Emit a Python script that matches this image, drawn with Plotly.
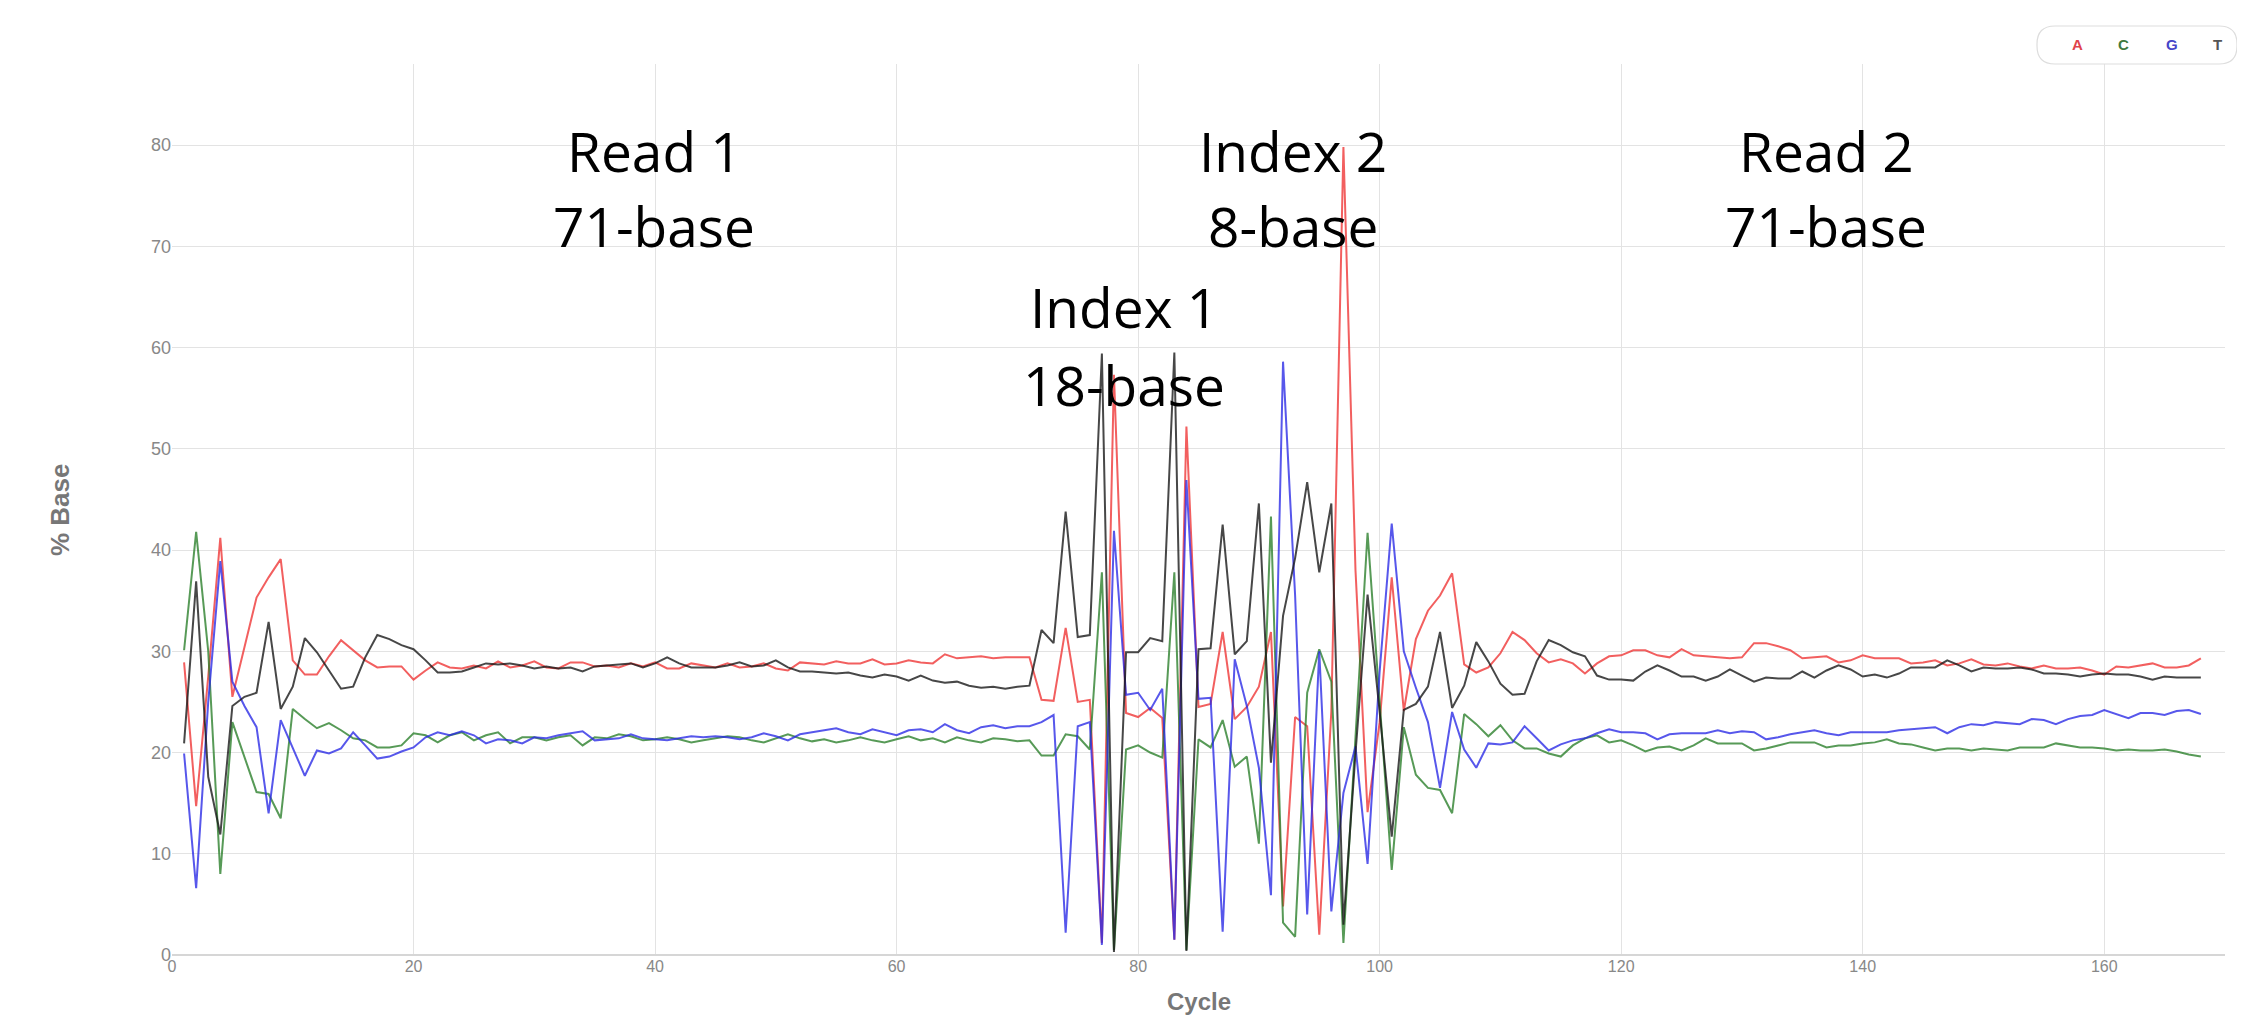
import plotly.graph_objects as go

# ---------------- data ----------------
cycles = list(range(1, 169))

base_a = [
    28.9, 14.7, 27.5, 41.2, 25.5, 30.4, 35.3, 37.3, 39.1, 29.1,
    27.7, 27.7, 29.5, 31.1, 30.1, 29.1, 28.4, 28.5, 28.5, 27.2,
    28.1, 28.9, 28.4, 28.3, 28.6, 28.3, 29.0, 28.4, 28.6, 29.0,
    28.4, 28.3, 28.9, 28.9, 28.5, 28.6, 28.4, 28.8, 28.5, 28.9,
    28.3, 28.3, 28.8, 28.6, 28.4, 28.8, 28.4, 28.5, 28.8, 28.3,
    28.1, 28.9, 28.8, 28.7, 29.0, 28.8, 28.8, 29.2, 28.7, 28.8,
    29.1, 28.9, 28.8, 29.7, 29.3, 29.4, 29.5, 29.3, 29.4, 29.4,
    29.4, 25.2, 25.1, 32.3, 25.0, 25.2, 1.2, 57.3, 23.9, 23.5,
    24.4, 23.4, 1.5, 52.2, 24.5, 24.8, 31.9, 23.3, 24.5, 26.5,
    31.9, 4.8, 23.5, 22.6, 2.0, 24.1, 79.8, 38.0, 14.1, 23.0,
    37.3, 24.1, 31.2, 34.0, 35.5, 37.7, 28.7, 27.9, 28.4, 29.8,
    31.9, 31.1, 29.8, 28.9, 29.2, 28.8, 27.8, 28.8, 29.5, 29.6,
    30.1, 30.1, 29.6, 29.4, 30.2, 29.6, 29.5, 29.4, 29.3, 29.4,
    30.8, 30.8, 30.5, 30.1, 29.3, 29.4, 29.5, 28.9, 29.1, 29.6,
    29.3, 29.3, 29.3, 28.8, 28.9, 29.1, 28.6, 28.8, 29.2, 28.7,
    28.6, 28.8, 28.5, 28.3, 28.6, 28.3, 28.3, 28.4, 28.1, 27.7,
    28.5, 28.4, 28.6, 28.8, 28.4, 28.4, 28.6, 29.3,
]

base_c = [
    30.1, 41.8, 30.0, 8.0, 23.0, 19.6, 16.1, 15.9, 13.5, 24.3,
    23.3, 22.4, 22.9, 22.2, 21.4, 21.2, 20.5, 20.5, 20.7, 21.9,
    21.7, 21.0, 21.7, 22.0, 21.2, 21.7, 22.0, 20.9, 21.5, 21.5,
    21.2, 21.5, 21.7, 20.7, 21.5, 21.4, 21.8, 21.6, 21.2, 21.3,
    21.5, 21.3, 21.0, 21.2, 21.4, 21.6, 21.5, 21.2, 21.0, 21.4,
    21.8, 21.4, 21.1, 21.3, 21.0, 21.2, 21.5, 21.2, 21.0, 21.3,
    21.6, 21.2, 21.4, 21.0, 21.5, 21.2, 21.0, 21.4, 21.3, 21.1,
    21.2, 19.7, 19.7, 21.8, 21.6, 20.3, 37.8, 0.5, 20.3, 20.7,
    20.0, 19.5, 37.8, 0.5, 21.3, 20.5, 23.2, 18.6, 19.6, 11.0,
    43.3, 3.2, 1.8, 25.9, 30.2, 27.0, 1.2, 21.5, 41.7, 25.0,
    8.4, 22.5, 17.8, 16.5, 16.3, 14.0, 23.8, 22.8, 21.6, 22.7,
    21.2, 20.4, 20.4, 19.9, 19.6, 20.7, 21.4, 21.7, 21.0, 21.2,
    20.7, 20.1, 20.5, 20.6, 20.2, 20.7, 21.4, 20.9, 20.9, 20.9,
    20.2, 20.4, 20.7, 21.0, 21.0, 21.0, 20.5, 20.7, 20.7, 20.9,
    21.0, 21.3, 20.9, 20.8, 20.5, 20.2, 20.4, 20.4, 20.2, 20.4,
    20.3, 20.2, 20.5, 20.5, 20.5, 20.9, 20.7, 20.5, 20.5, 20.4,
    20.2, 20.3, 20.2, 20.2, 20.3, 20.1, 19.8, 19.6,
]

base_g = [
    19.9, 6.6, 25.0, 38.9, 27.0, 24.6, 22.5, 14.0, 23.2, 20.5,
    17.7, 20.2, 19.9, 20.4, 22.0, 20.7, 19.4, 19.6, 20.1, 20.5,
    21.5, 22.0, 21.7, 22.1, 21.7, 20.9, 21.3, 21.2, 20.9, 21.5,
    21.4, 21.7, 21.9, 22.1, 21.2, 21.3, 21.4, 21.8, 21.4, 21.3,
    21.2, 21.4, 21.6, 21.5, 21.6, 21.5, 21.3, 21.5, 21.9, 21.6,
    21.2, 21.8, 22.0, 22.2, 22.4, 22.0, 21.8, 22.3, 22.0, 21.7,
    22.2, 22.3, 22.0, 22.8, 22.2, 21.9, 22.5, 22.7, 22.4, 22.6,
    22.6, 23.0, 23.7, 2.2, 22.6, 23.0, 1.0, 41.9, 25.7, 25.9,
    24.2, 26.3, 1.5, 46.9, 25.3, 25.4, 2.3, 29.2, 24.6, 18.5,
    5.9, 58.6, 35.5, 4.0, 30.0, 4.3, 16.0, 20.6, 9.0, 28.0,
    42.6, 30.0, 26.4, 23.0, 16.5, 24.0, 20.3, 18.5, 20.9, 20.8,
    21.0, 22.6, 21.4, 20.2, 20.8, 21.2, 21.4, 21.9, 22.3, 22.0,
    22.0, 21.9, 21.3, 21.8, 21.9, 21.9, 21.9, 22.2, 21.9, 22.1,
    22.0, 21.3, 21.5, 21.8, 22.0, 22.2, 21.9, 21.7, 22.0, 22.0,
    22.0, 22.0, 22.2, 22.3, 22.4, 22.5, 21.9, 22.5, 22.8, 22.7,
    23.0, 22.9, 22.8, 23.3, 23.2, 22.8, 23.3, 23.6, 23.7, 24.2,
    23.8, 23.4, 23.9, 23.9, 23.7, 24.1, 24.2, 23.8,
]

base_t = [
    20.9, 36.9, 17.6, 11.9, 24.6, 25.5, 25.9, 32.9, 24.3, 26.5,
    31.3, 29.9, 28.1, 26.3, 26.5, 29.4, 31.6, 31.2, 30.6, 30.2,
    29.1, 27.9, 27.9, 28.0, 28.4, 28.8, 28.7, 28.8, 28.6, 28.3,
    28.5, 28.3, 28.4, 28.0, 28.5, 28.6, 28.7, 28.8, 28.4, 28.8,
    29.4, 28.8, 28.4, 28.4, 28.4, 28.6, 28.9, 28.5, 28.6, 29.1,
    28.4, 28.0, 28.0, 27.9, 27.8, 27.9, 27.6, 27.4, 27.7, 27.5,
    27.1, 27.6, 27.1, 26.9, 27.0, 26.6, 26.4, 26.5, 26.3, 26.5,
    26.6, 32.1, 30.8, 43.8, 31.4, 31.6, 59.4, 0.3, 29.9, 29.9,
    31.3, 31.0, 59.5, 0.4, 30.2, 30.3, 42.5, 29.7, 31.0, 44.6,
    19.0, 33.5, 39.2, 46.7, 37.8, 44.6, 3.0, 19.9, 35.6, 24.0,
    11.7, 24.2, 24.8, 26.5, 31.9, 24.4, 26.6, 30.9, 29.0, 26.8,
    25.7, 25.8, 29.0, 31.1, 30.6, 29.9, 29.5, 27.6, 27.2, 27.2,
    27.1, 28.0, 28.6, 28.1, 27.5, 27.5, 27.1, 27.5, 28.2, 27.6,
    27.0, 27.4, 27.3, 27.3, 28.0, 27.4, 28.1, 28.6, 28.2, 27.5,
    27.7, 27.4, 27.8, 28.4, 28.4, 28.4, 29.1, 28.6, 28.0, 28.4,
    28.3, 28.3, 28.4, 28.2, 27.8, 27.8, 27.7, 27.5, 27.7, 27.8,
    27.7, 27.7, 27.5, 27.2, 27.5, 27.4, 27.4, 27.4,
]

series_names = ["A", "C", "G", "T"]
x_ticks = [0, 20, 40, 60, 80, 100, 120, 140, 160]
y_ticks = [0, 10, 20, 30, 40, 50, 60, 70, 80]
region_labels = [
    ("Read 1", "71-base"),
    ("Index 1", "18-base"),
    ("Index 2", "8-base"),
    ("Read 2", "71-base"),
]

# ---------------- styling ----------------
# the page body adds an 8px offset, so the figure is 8px smaller
OFF = 8
W, H = 2245 - OFF, 1017 - OFF
ML, MR, MT, MB = 172 - OFF, 20, 64 - OFF, 62
PW, PH = W - ML - MR, H - MT - MB

line_colors = [
    "rgba(238,50,50,0.78)",
    "rgba(40,125,40,0.78)",
    "rgba(40,40,230,0.78)",
    "rgba(25,25,25,0.80)",
]
legend_colors = ["#e0434b", "#3f7a3f", "#4646c8", "#555555"]


def px_x(px):
    """page pixel x -> paper fraction"""
    return (px - OFF - ML) / PW


def px_y(py):
    """page pixel y -> paper fraction"""
    return (H - MB - (py - OFF)) / PH


fig = go.Figure()
for name, vals, col in zip(series_names, [base_a, base_c, base_g, base_t], line_colors):
    fig.add_trace(go.Scatter(
        x=cycles, y=vals, name=name, mode="lines",
        line=dict(color=col, width=2),
        hoverinfo="x+y+name",
    ))

annotations = []
label_pos = [
    (654, 150, 226),
    (1124, 306, 384),
    (1293, 150, 226),
    (1826, 150, 226),
]
for (l1, l2), (cx, y1, y2) in zip(region_labels, label_pos):
    for txt, yy in ((l1, y1), (l2, y2)):
        annotations.append(dict(
            text=txt, xref="paper", yref="paper",
            x=px_x(cx), y=px_y(yy), xanchor="center", yanchor="middle",
            showarrow=False,
            font=dict(family="Open Sans", size=55, color="#000000"),
        ))

# axis titles
annotations.append(dict(
    text="<b>Cycle</b>", xref="paper", yref="paper",
    x=0.5, y=px_y(1001), xanchor="center", yanchor="middle", showarrow=False,
    font=dict(family="Liberation Sans", size=24, color="#777777"),
))
annotations.append(dict(
    text="<b>% Base</b>", xref="paper", yref="paper",
    x=px_x(60), y=px_y(510), xanchor="center", yanchor="middle", showarrow=False,
    textangle=-90,
    font=dict(family="Liberation Sans", size=26, color="#777777"),
))

# custom legend letters
legend_x = [2077, 2123, 2172, 2217]
for name, col, lx in zip(series_names, legend_colors, legend_x):
    annotations.append(dict(
        text="<b>" + name + "</b>", xref="paper", yref="paper",
        x=px_x(lx), y=px_y(45), xanchor="center", yanchor="middle",
        showarrow=False,
        font=dict(family="Liberation Sans", size=15, color=col),
    ))

# rounded legend box
bx0, bx1, by0, by1, r = 2037, 2237, 26, 64, 18
X0, X1 = px_x(bx0), px_x(bx1)
Y0, Y1 = px_y(by1), px_y(by0)
rx, ry = r / PW, r / PH
path = (
    f"M {X0 + rx},{Y1} L {X1 - rx},{Y1} Q {X1},{Y1} {X1},{Y1 - ry} "
    f"L {X1},{Y0 + ry} Q {X1},{Y0} {X1 - rx},{Y0} "
    f"L {X0 + rx},{Y0} Q {X0},{Y0} {X0},{Y0 + ry} "
    f"L {X0},{Y1 - ry} Q {X0},{Y1} {X0 + rx},{Y1} Z"
)
shapes = [dict(type="path", xref="paper", yref="paper", path=path,
               line=dict(color="#dddddd", width=1.2), fillcolor="rgba(255,255,255,0)")]

fig.update_layout(
    width=W, height=H,
    margin=dict(l=ML, r=MR, t=MT, b=MB),
    plot_bgcolor="white", paper_bgcolor="white",
    showlegend=False,
    font=dict(family="Liberation Sans", color="#777777"),
    annotations=annotations,
    shapes=shapes,
    xaxis=dict(
        range=[0, 170], tickvals=x_ticks, ticktext=[str(v) for v in x_ticks],
        showgrid=True, gridcolor="#e3e3e3", gridwidth=1,
        zeroline=False, showline=False, ticks="",
        tickfont=dict(size=16, color="#888888"),
    ),
    yaxis=dict(
        range=[0, 88], tickvals=y_ticks, ticktext=[str(v) for v in y_ticks],
        showgrid=True, gridcolor="#e3e3e3", gridwidth=1,
        zeroline=True, zerolinecolor="#d6d6d6", zerolinewidth=2,
        showline=False, ticks="",
        tickfont=dict(size=18, color="#888888"),
    ),
)

fig.write_html("out.html")
